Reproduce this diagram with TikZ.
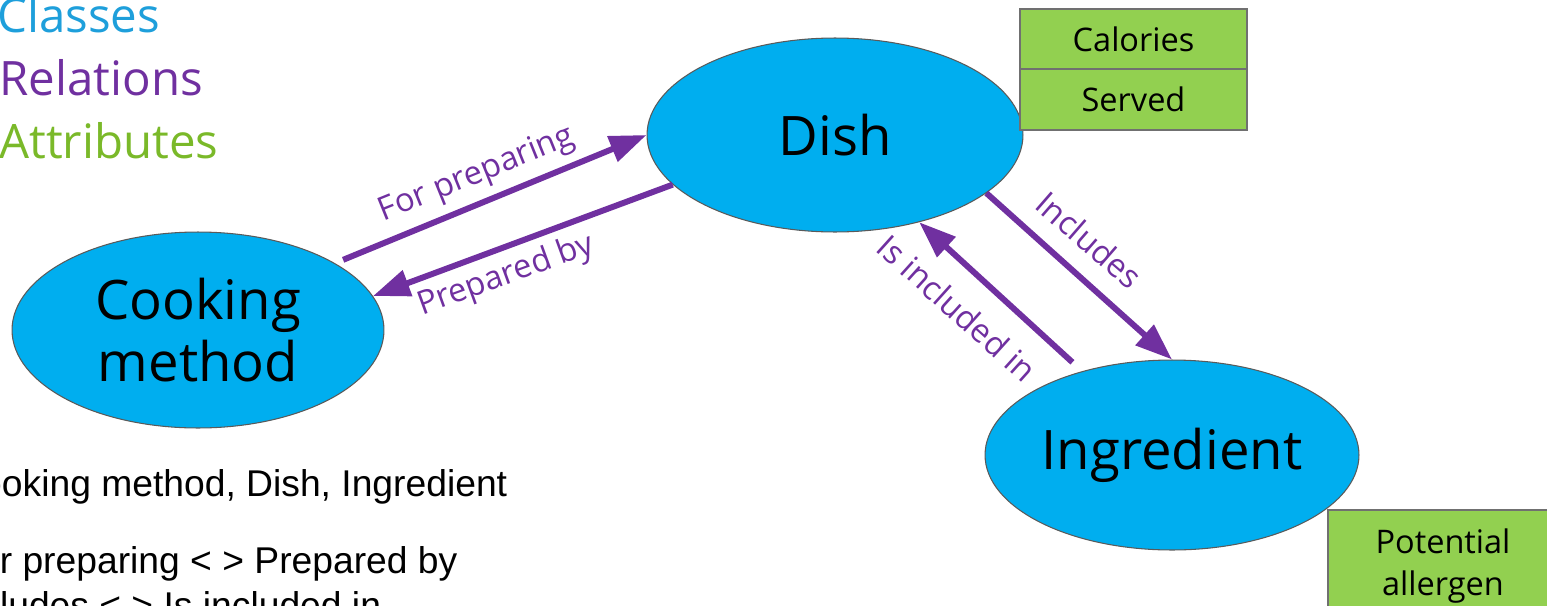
\documentclass[tikz,border=0pt]{standalone}
\usepackage{fontspec}
\setmainfont{Open Sans}
\newfontfamily\arialfont{Liberation Sans}
\usetikzlibrary{shapes.geometric,arrows.meta}
\definecolor{classblue}{HTML}{1E9FDB}
\definecolor{classfill}{HTML}{00AEEF}
\definecolor{relpurple}{HTML}{7030A0}
\definecolor{attrgreen}{HTML}{7AB929}
\definecolor{attrfill}{HTML}{92D050}
\definecolor{boxgray}{HTML}{707070}
\definecolor{ellgray}{HTML}{5A5A5A}
\tikzset{class/.style={ellipse,draw=ellgray,line width=0.6pt,fill=classfill,
           inner sep=0pt,align=center,font=\fontsize{31}{39}\selectfont},
         attr/.style={rectangle,draw=boxgray,line width=1.1pt,fill=attrfill,
           inner sep=0pt,align=center,minimum width=4.54cm,
           font=\fontsize{18.5}{24}\selectfont},
         rel/.style={draw=relpurple,line width=3.4pt,
           -{Triangle[length=21pt,width=15pt]}},
         rellabel/.style={text=relpurple,inner sep=0pt,
           font=\fontsize{18.6}{22}\selectfont},
         legend/.style={anchor=base west,inner sep=0pt,
           font=\fontsize{27}{30}\selectfont},
         note/.style={anchor=base west,inner sep=0pt,
           font=\arialfont\fontsize{21.2}{25}\selectfont}}
\begin{document}
\begin{tikzpicture}[x=0.02cm,y=-0.02cm]
\useasboundingbox (0,0) rectangle (1547,605);
\node[legend,text=classblue] (lclass) at (-3,32) {Classes};
\node[legend,text=relpurple] (lrel) at (-1,95) {Relations};
\node[legend,text=attrgreen] (lattr) at (-1,158) {Attributes};
\node[class,minimum width=7.52cm,minimum height=3.88cm] (dish) at (835,135) {Dish};
\node[class,minimum width=7.44cm,minimum height=3.92cm] (cook) at (198,330) {\raisebox{-4pt}{Cooking}\\method};
\node[class,minimum width=7.48cm,minimum height=3.8cm] (ingr) at (1172,455) {Ingredient};
\node[attr,minimum height=1.2cm] (cal) at (1133.5,39) {\raisebox{-2pt}{Calories}};
\node[attr,minimum height=1.22cm] (served) at (1133.5,99.5) {Served};
\node[attr,minimum width=4.6cm,minimum height=2.24cm] (allergen) at (1443,566) {Potential\\allergen};
\draw[rel,shorten <=5pt] (cook.26) -- (dish.180);
\draw[rel] (dish.197) -- (cook.11);
\draw[rel] (dish.-21) -- (ingr.north);
\draw[rel,shorten <=7.5pt] (ingr.137) -- (dish.-46);
\node[rellabel,rotate=22] (forprep) at (477,175) {For preparing};
\node[rellabel,rotate=20] (prepby) at (506,276) {Prepared by};
\node[rellabel,rotate=-41] (incl) at (1089,240) {Includes};
\node[rellabel,rotate=-42] (isincl) at (957,308) {Is included in};
\node[note] (n1) at (-46,496) {Cooking method, Dish, Ingredient};
\node[note] (n2) at (-44,573) {For preparing < > Prepared by};
\node[note] (n3) at (-50,618) {Includes < > Is included in};
\end{tikzpicture}
\end{document}
